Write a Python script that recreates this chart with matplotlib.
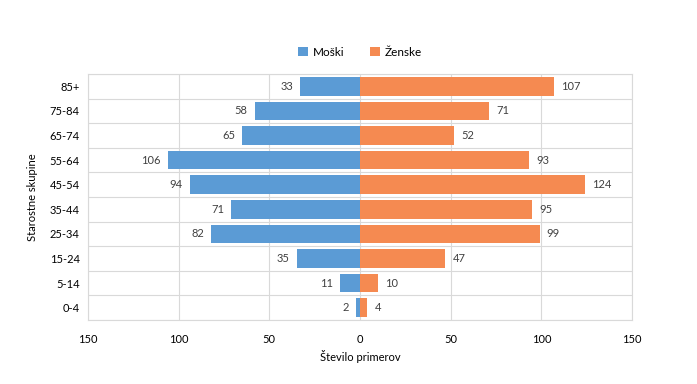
import matplotlib
matplotlib.use("Agg")
import matplotlib.pyplot as plt
import numpy as np

categories = ["0-4", "5-14", "15-24", "25-34", "35-44", "45-54", "55-64", "65-74", "75-84", "85+"]
male = [2, 11, 35, 82, 71, 94, 106, 65, 58, 33]
female = [4, 10, 47, 99, 95, 124, 93, 52, 71, 107]
xticks = [-150, -100, -50, 0, 50, 100, 150]
xticklabels = ["150", "100", "50", "0", "50", "100", "150"]

plt.rcParams['font.family'] = ['Lato', 'DejaVu Sans']
blue = "#5B9BD5"
orange = "#F58A51"
txt = "#404040"

fig = plt.figure(figsize=(6.97, 3.84), dpi=100)
ax = fig.add_axes([88/697, 1-320/384, (632-88)/697, (320-74)/384])

y = np.arange(len(categories))
ax.barh(y, [-m for m in male], height=0.75, color=blue, label="Moški", zorder=3)
ax.barh(y, female, height=0.75, color=orange, label="Ženske", zorder=3)

for yi, m, f in zip(y, male, female):
    ax.text(-m - 4, yi, str(m), ha="right", va="center", fontsize=8, color=txt)
    ax.text(f + 4, yi, str(f), ha="left", va="center", fontsize=8, color=txt)

ax.set_xlim(-150, 150)
ax.set_ylim(-0.5, len(categories) - 0.5)
ax.set_xticks(xticks)
ax.set_xticklabels(xticklabels)
ax.set_yticks(y)
ax.set_yticklabels(categories)
ax.set_yticks(np.arange(-0.5, len(categories), 1), minor=True)
ax.grid(axis="x", which="major", color="#D9D9D9", linewidth=0.8, zorder=0)
ax.grid(axis="y", which="minor", color="#D9D9D9", linewidth=0.8, zorder=0)
ax.grid(axis="y", which="major", visible=False)
ax.tick_params(which="both", length=0)
ax.tick_params(axis="x", pad=10, labelsize=8, colors="black")
ax.tick_params(axis="y", pad=6, labelsize=8, colors="black")
for s in ax.spines.values():
    s.set_color("#D9D9D9")
    s.set_linewidth(0.8)

ax.set_xlabel("Število primerov", fontsize=8, color="black", labelpad=4)
ax.set_ylabel("Starostne skupine", fontsize=8, color="black", labelpad=8)

ax.legend(loc="center", bbox_to_anchor=(360/697, 1-52/384), bbox_transform=fig.transFigure,
          ncol=2, frameon=False, fontsize=8.5, handlelength=0.8, handleheight=0.8,
          columnspacing=2.2, handletextpad=0.4)

fig.savefig("out.png", dpi=100)
